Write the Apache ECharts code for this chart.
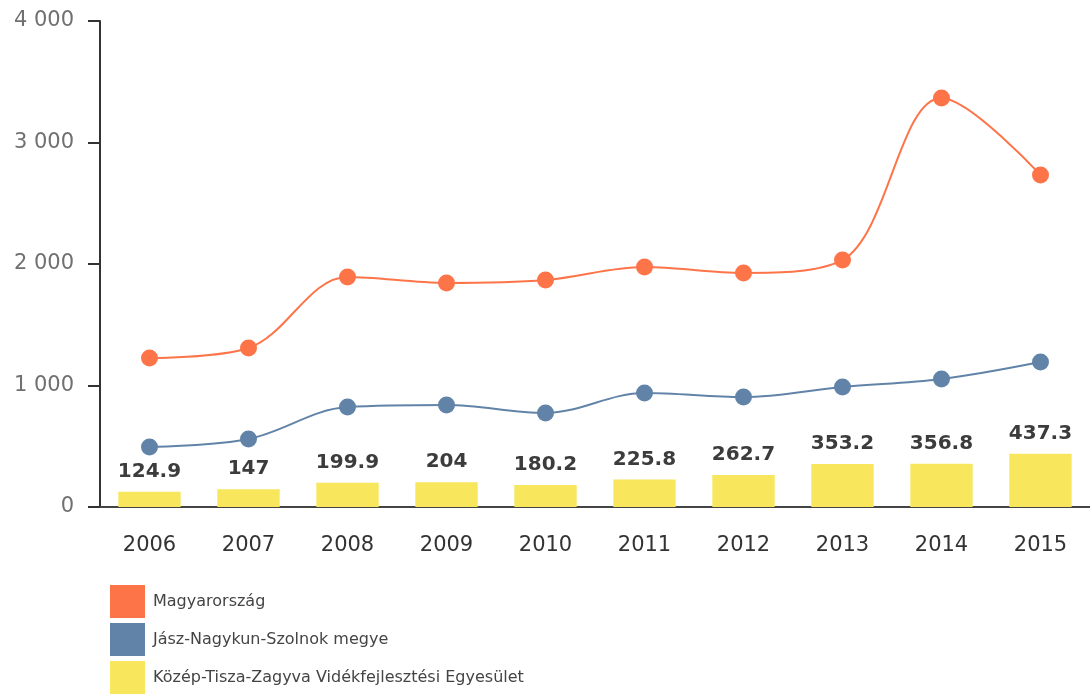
<!DOCTYPE html>
<html><head><meta charset="utf-8">
<script src="https://cdn.jsdelivr.net/npm/echarts@6/dist/echarts.min.js"></script>
<style>html,body{margin:0;padding:0;background:#fff}#c{width:1090px;height:695px}</style>
</head><body><div id="c"></div>
<script>
const years = ['2006','2007','2008','2009','2010','2011','2012','2013','2014','2015'];
const seriesNames = ['Magyarország','Jász-Nagykun-Szolnok megye','Közép-Tisza-Zagyva Vidékfejlesztési Egyesület'];
const magyarorszag = [1226, 1309, 1893, 1844, 1868, 1975, 1926, 2033, 3366, 2733];
const jnsz = [494, 560, 823, 840, 774, 938, 905, 988, 1053, 1193];
const egyesulet = [124.9, 147, 199.9, 204, 180.2, 225.8, 262.7, 353.2, 356.8, 437.3];
const yTicks = [0, 1000, 2000, 3000, 4000];

const chart = echarts.init(document.getElementById('c'));
const font = 'DejaVu Sans';
chart.setOption({
  animation: false,
  textStyle: {fontFamily: font},
  grid: {left: 100, right: -5, top: 21, bottom: 188},
  legend: {
    orient: 'vertical', left: 110, top: 585, padding: 0, height: 110,
    itemWidth: 35, itemHeight: 33, itemGap: 5,
    icon: 'rect',
    textStyle: {fontFamily: font, fontSize: 16, color: '#444', padding: [0, 0, 0, 3]},
    data: seriesNames
  },
  xAxis: {
    type: 'category', data: years,
    axisLine: {lineStyle: {color: '#444', width: 2}},
    axisTick: {alignWithLabel: true, length: 10, lineStyle: {color: '#444', width: 2}},
    axisLabel: {color: '#333', fontSize: 21, margin: 28, fontFamily: font}
  },
  yAxis: {
    type: 'value', min: yTicks[0], max: yTicks[yTicks.length-1], interval: 1000,
    splitLine: {show: false},
    axisLine: {show: true, lineStyle: {color: '#333', width: 2}},
    axisTick: {show: true, length: 12, lineStyle: {color: '#333', width: 2}},
    axisLabel: {color: '#707070', fontSize: 21, margin: 26, fontFamily: font,
      formatter: v => String(v).replace(/\B(?=(\d{3})+(?!\d))/g, ' ')}
  },
  series: [
    {name: seriesNames[2], type: 'bar', data: egyesulet, barWidth: '63%', z: 1,
     itemStyle: {color: '#f8e65c'},
     label: {show: true, position: 'top', distance: 10, color: '#3c3c3c', fontSize: 20, fontWeight: 'bold', fontFamily: font}},
    {name: seriesNames[0], type: 'line', data: magyarorszag, smooth: 0.35, symbol: 'circle', symbolSize: 17, z: 3,
     itemStyle: {color: '#fe7449'}, lineStyle: {color: '#fe7449', width: 2}},
    {name: seriesNames[1], type: 'line', data: jnsz, smooth: 0.35, symbol: 'circle', symbolSize: 17, z: 3,
     itemStyle: {color: '#6283a8'}, lineStyle: {color: '#6283a8', width: 2}}
  ]
});
</script></body></html>
